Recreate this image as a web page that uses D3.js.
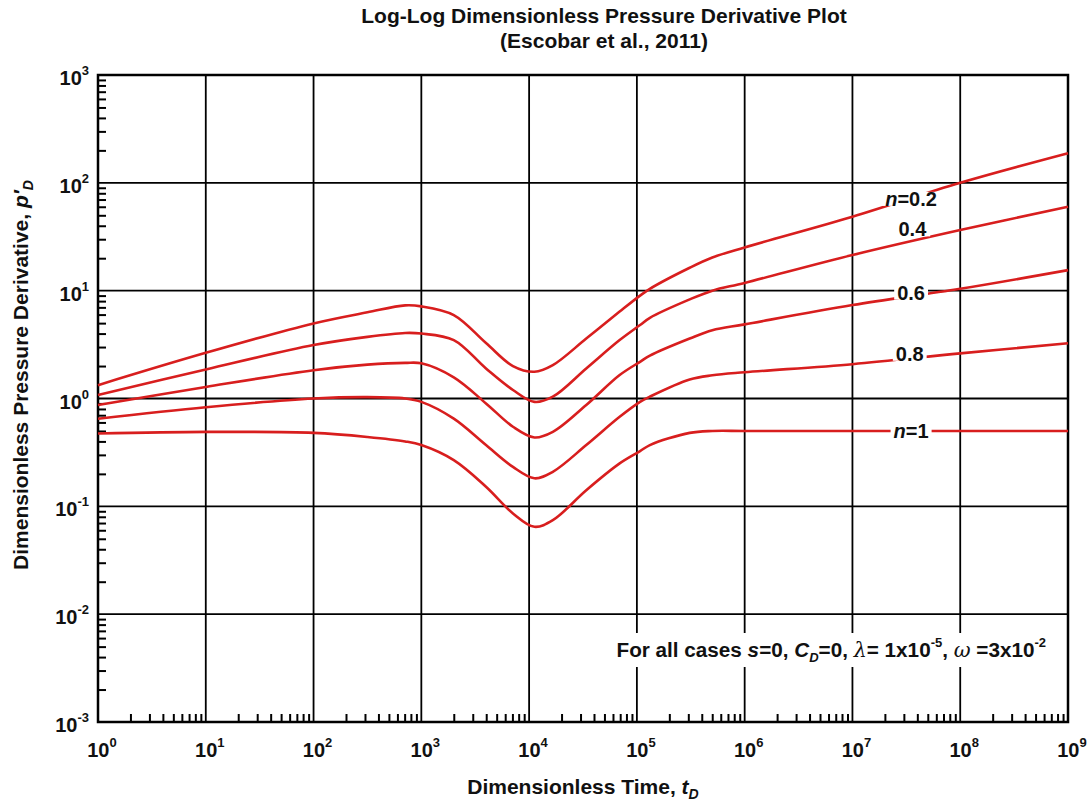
<!DOCTYPE html>
<html>
<head>
<meta charset="utf-8">
<script src="https://cdn.jsdelivr.net/npm/d3@7"></script>
<style>
  body { margin: 0; background: #fff; }
  text { font-family: "Liberation Sans", Arial, sans-serif; font-weight: bold; fill: #111; }
</style>
</head>
<body>
<div id="main"></div>
<script>
// dimensionless time grid the curves were read at
const tD = [1, 10, 100, 316, 708, 1000, 2000, 3980, 7080, 11200, 16600, 33900, 69200,
  107000, 132000, 309000, 501000, 1e6, 1e7, 1e8, 1e9];

// dimensionless pressure derivative, one array per flow index n
const pD_n02 = [1.33, 2.65, 4.97, 6.3, 7.3, 7.15, 5.94, 3.27, 2.0, 1.77, 2.04, 3.6, 6.4, 9.0, 10.4, 16.3, 20.3, 25.2, 48.5, 100, 188];
const pD_n04 = [1.08, 1.86, 3.13, 3.73, 4.05, 4.0, 3.48, 1.90, 1.20, 0.93, 1.04, 1.90, 3.48, 4.8, 5.6, 8.3, 10.0, 11.8, 21.4, 36.5, 60];
const pD_n06 = [0.87, 1.28, 1.83, 2.06, 2.14, 2.12, 1.57, 0.90, 0.547, 0.435, 0.49, 0.87, 1.65, 2.19, 2.5, 3.6, 4.3, 4.87, 7.35, 10.4, 15.5];
const pD_n08 = [0.65, 0.83, 1.0, 1.03, 1.0, 0.93, 0.65, 0.37, 0.232, 0.182, 0.209, 0.37, 0.676, 0.93, 1.04, 1.5, 1.64, 1.75, 2.08, 2.62, 3.25];
const pD_n1  = [0.474, 0.49, 0.48, 0.44, 0.40, 0.37, 0.268, 0.152, 0.086, 0.0646, 0.0744, 0.141, 0.25, 0.325, 0.37, 0.48, 0.5, 0.5, 0.5, 0.5, 0.5];

const seriesList = [pD_n02, pD_n04, pD_n06, pD_n08, pD_n1];

// curve labels: [prefix in italics, rest, tD, pD]
const curveLabels = [
  ["n", "=0.2", 3.5e7, 71],
  ["", "0.4", 3.6e7, 37],
  ["", "0.6", 3.5e7, 9.6],
  ["", "0.8", 3.4e7, 2.6],
  ["n", "=1", 3.5e7, 0.5]
];

const xExp = [0, 1, 2, 3, 4, 5, 6, 7, 8, 9];
const yExp = [-3, -2, -1, 0, 1, 2, 3];

const width = 1089, height = 804;
const margin = {top: 75, left: 98, right: 21, bottom: 82};

const svg = d3.select("#main").append("svg").attr("width", width).attr("height", height);

const x = d3.scaleLog().domain([1, 1e9]).range([margin.left, width - margin.right]);
const y = d3.scaleLog().domain([1e-3, 1e3]).range([height - margin.bottom, margin.top]);

// minor tick values 2..9 per decade
const xMinor = [], yMinor = [];
xExp.slice(0, -1).forEach(e => { for (let k = 2; k <= 9; k++) xMinor.push(k * Math.pow(10, e)); });
yExp.slice(0, -1).forEach(e => { for (let k = 2; k <= 9; k++) yMinor.push(k * Math.pow(10, e)); });

// grid
svg.append("g").selectAll("line").data(xExp).enter().append("line")
  .attr("x1", d => x(Math.pow(10, d))).attr("x2", d => x(Math.pow(10, d)))
  .attr("y1", y(1e-3)).attr("y2", y(1e3))
  .attr("stroke", "#000").attr("stroke-width", 1.8);
svg.append("g").selectAll("line").data(yExp).enter().append("line")
  .attr("x1", x(1)).attr("x2", x(1e9))
  .attr("y1", d => y(Math.pow(10, d))).attr("y2", d => y(Math.pow(10, d)))
  .attr("stroke", "#000").attr("stroke-width", 1.8);

// minor ticks (inward)
const xAxis = svg.append("g").attr("transform", `translate(0,${y(1e-3)})`)
  .call(d3.axisBottom(x).tickValues(xMinor).tickSize(-8).tickFormat(""));
const yAxis = svg.append("g").attr("transform", `translate(${x(1)},0)`)
  .call(d3.axisLeft(y).tickValues(yMinor).tickSize(-8).tickFormat(""));
[xAxis, yAxis].forEach(a => {
  a.select(".domain").remove();
  a.selectAll(".tick line").attr("stroke", "#000").attr("stroke-width", 2);
});

// frame
svg.append("rect").attr("x", x(1)).attr("y", y(1e3))
  .attr("width", x(1e9) - x(1)).attr("height", y(1e-3) - y(1e3))
  .attr("fill", "none").attr("stroke", "#000").attr("stroke-width", 2.5);

// curves
const line = d3.line().x(d => x(d[0])).y(d => y(d[1])).curve(d3.curveCatmullRom.alpha(0.5));
svg.append("g").selectAll("path").data(seriesList).enter().append("path")
  .attr("d", s => line(tD.map((t, i) => [t, s[i]])))
  .attr("fill", "none").attr("stroke", "#d81e1e").attr("stroke-width", 2.6);

// curve labels with white background to break the line
curveLabels.forEach(l => {
  const g = svg.append("g");
  const t = g.append("text").attr("x", x(l[2])).attr("y", y(l[3])).attr("dy", "0.35em")
    .attr("text-anchor", "middle").style("font-size", "20px");
  if (l[0]) t.append("tspan").style("font-style", "italic").text(l[0]);
  t.append("tspan").text(l[1]);
  const bb = t.node().getBBox();
  g.insert("rect", "text").attr("x", bb.x - 3).attr("y", bb.y + 4)
    .attr("width", bb.width + 6).attr("height", bb.height - 8).attr("fill", "#fff");
});

// tick labels
xExp.forEach(e => {
  const t = svg.append("text").attr("x", x(Math.pow(10, e)) + 4).attr("y", y(1e-3) + 35)
    .attr("text-anchor", "middle").style("font-size", "20px");
  t.append("tspan").text("10");
  t.append("tspan").attr("dy", -10).style("font-size", "13px").text(e);
});
yExp.forEach(e => {
  const t = svg.append("text").attr("x", x(1) - 9).attr("y", y(Math.pow(10, e)) + 10)
    .attr("text-anchor", "end").style("font-size", "20px");
  t.append("tspan").text("10");
  t.append("tspan").attr("dy", -10).style("font-size", "13px").text(e);
});

// titles
svg.append("text").attr("x", 604).attr("y", 23).attr("text-anchor", "middle")
  .style("font-size", "21px").text("Log-Log Dimensionless Pressure Derivative Plot");
svg.append("text").attr("x", 604).attr("y", 48).attr("text-anchor", "middle")
  .style("font-size", "21px").text("(Escobar et al., 2011)");

// x label
const xl = svg.append("text").attr("x", 583).attr("y", 794).attr("text-anchor", "middle").style("font-size", "21px");
xl.append("tspan").text("Dimensionless Time, ");
xl.append("tspan").style("font-style", "italic").text("t");
xl.append("tspan").attr("dy", 5).style("font-size", "14px").style("font-style", "italic").text("D");

// y label
const yl = svg.append("text").attr("transform", "translate(28,375) rotate(-90)")
  .attr("text-anchor", "middle").style("font-size", "21px");
yl.append("tspan").text("Dimensionless Pressure Derivative, ");
yl.append("tspan").style("font-style", "italic").text("p\u2032");
yl.append("tspan").attr("dy", 5).style("font-size", "14px").style("font-style", "italic").text("D");

// note, on a white patch that breaks the grid lines
const noteG = svg.append("g");
const note = noteG.append("text").attr("x", 1046).attr("y", 657).attr("text-anchor", "end").style("font-size", "20.7px");
note.append("tspan").text("For all cases ");
note.append("tspan").style("font-style", "italic").text("s");
note.append("tspan").text("=0, ");
note.append("tspan").style("font-style", "italic").text("C");
note.append("tspan").attr("dy", 5).style("font-size", "13px").style("font-style", "italic").text("D");
note.append("tspan").attr("dy", -5).text("=0, ");
note.append("tspan").style("font-style", "italic").style("font-family", "'DejaVu Serif', serif").style("font-weight", "normal").text("\u03bb");
note.append("tspan").text("= 1x10");
note.append("tspan").attr("dy", -10).style("font-size", "13px").text("-5");
note.append("tspan").attr("dy", 10).text(", ");
note.append("tspan").style("font-style", "italic").style("font-family", "'DejaVu Serif', serif").style("font-weight", "normal").text("\u03c9");
note.append("tspan").text(" =3x10");
note.append("tspan").attr("dy", -10).style("font-size", "13px").text("-2");
const nb = note.node().getBBox();
noteG.insert("rect", "text").attr("x", nb.x - 6).attr("y", nb.y - 2)
  .attr("width", nb.width + 12).attr("height", nb.height + 4).attr("fill", "#fff");
</script>
</body>
</html>
